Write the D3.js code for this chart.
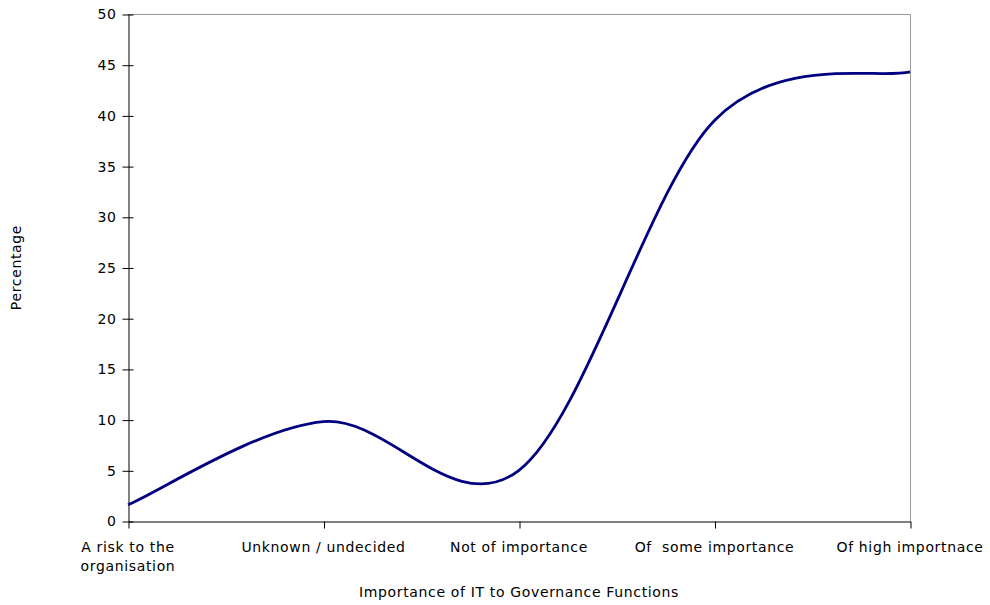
<!DOCTYPE html>
<html>
<head>
<meta charset="utf-8">
<script src="https://cdn.jsdelivr.net/npm/d3@7"></script>
<style>
  body { margin: 0; background: #fff; }
  svg text { font-family: "DejaVu Sans", Verdana, sans-serif; fill: #000; white-space: pre; letter-spacing: 0.65px; }
</style>
</head>
<body>
<svg id="chart" width="990" height="605"></svg>
<script>
// Survey responses: importance of IT to governance functions
const categories = [
  ["A risk to the", "organisation"],
  ["Unknown / undecided"],
  ["Not of importance"],
  ["Of  some importance"],
  ["Of high importnace"]
];
const percentages = [1.6, 9.8, 5.0, 39.5, 44.3];
const yTicks = [0, 5, 10, 15, 20, 25, 30, 35, 40, 45, 50];

const svg = d3.select("#chart");
const margin = { left: 128, right: 80, top: 14, bottom: 84 };
const W = 990, H = 605;
const x0 = margin.left, x1 = W - margin.right;
const y0 = H - margin.bottom, y1 = margin.top;
const FS = 14;

const x = d3.scalePoint().domain(d3.range(categories.length)).range([x0, x1]);
const y = d3.scaleLinear().domain([0, 50]).range([y0, y1]);

// Spreadsheet-style smoothed line: cubic Bézier segments whose control
// points sit 1/6 of the neighbour-to-neighbour span away, with the end
// points repeated so the first and last segments keep a non-zero slope.
function smoothCurve(context) {
  let pts = [];
  return {
    areaStart() {}, areaEnd() {},
    lineStart() { pts = []; },
    point(px, py) { pts.push([+px, +py]); },
    lineEnd() {
      const n = pts.length;
      if (!n) return;
      context.moveTo(pts[0][0], pts[0][1]);
      for (let i = 0; i < n - 1; i++) {
        const a = pts[Math.max(i - 1, 0)], b = pts[i], c = pts[i + 1], d = pts[Math.min(i + 2, n - 1)];
        context.bezierCurveTo(
          b[0] + (c[0] - a[0]) / 6, b[1] + (c[1] - a[1]) / 6,
          c[0] - (d[0] - b[0]) / 6, c[1] - (d[1] - b[1]) / 6,
          c[0], c[1]);
      }
    }
  };
}

// plot frame: top and right edges
svg.append("path")
  .attr("d", `M${x0},${y1 + 0.5}H${x1 + 0.5}V${y0}`)
  .attr("fill", "none").attr("stroke", "#9a9a9a").attr("stroke-width", 1);

// y axis
const yAxis = d3.axisLeft(y).tickValues(yTicks).tickSizeInner(6).tickSizeOuter(0).tickPadding(6);
const gy = svg.append("g").attr("transform", `translate(${x0 + 0.5},0.5)`).call(yAxis);
gy.selectAll(".tick line").attr("x2", 5).attr("x1", -6);
gy.select(".domain").attr("stroke", "#000");
gy.selectAll("text").attr("font-size", FS).attr("font-family", "DejaVu Sans, sans-serif");

// x axis
const xAxis = d3.axisBottom(x).tickSizeInner(7).tickSizeOuter(0).tickFormat("");
const gx = svg.append("g").attr("transform", `translate(0.5,${y0 + 0.5})`).call(xAxis);
gx.select(".domain").attr("stroke", "#000");

// category labels (may wrap onto two lines)
const labels = svg.append("g");
categories.forEach((lines, i) => {
  const t = labels.append("text")
    .attr("x", x(i)).attr("y", y0 + 31)
    .attr("text-anchor", "middle").attr("font-size", FS);
  lines.forEach((ln, j) => {
    t.append("tspan").attr("x", x(i)).attr("dy", j === 0 ? 0 : 19).text(ln);
  });
});

// smoothed series line
const line = d3.line()
  .x((d, i) => x(i))
  .y(d => y(d))
  .curve(smoothCurve);

svg.append("path")
  .datum(percentages)
  .attr("d", line)
  .attr("fill", "none")
  .attr("stroke", "#000080")
  .attr("stroke-width", 2.8);

// axis titles
svg.append("text")
  .attr("x", (x0 + x1) / 2).attr("y", 597)
  .attr("text-anchor", "middle").attr("font-size", FS)
  .text("Importance of IT to Governance Functions");

svg.append("text")
  .attr("transform", `translate(21,${(y0 + y1) / 2}) rotate(-90)`)
  .attr("text-anchor", "middle").attr("font-size", FS)
  .text("Percentage");
</script>
</body>
</html>
